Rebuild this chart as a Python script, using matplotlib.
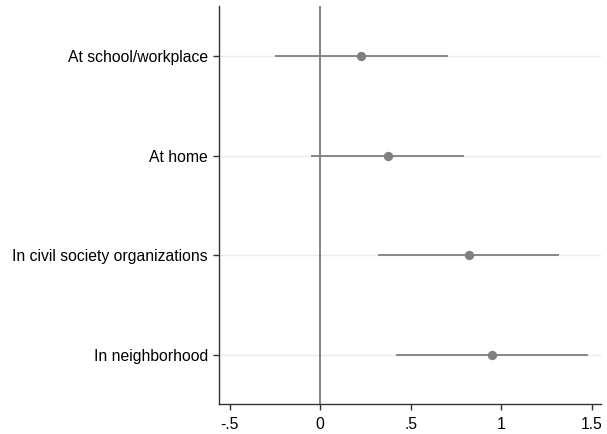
import matplotlib.pyplot as plt

# coefficient estimates with 95% CIs
labels = ["At school/workplace", "At home", "In civil society organizations", "In neighborhood"]
coef = [0.227, 0.372, 0.822, 0.948]
ci_low = [-0.249, -0.05, 0.322, 0.42]
ci_high = [0.705, 0.795, 1.320, 1.479]

xticks = [-0.5, 0, 0.5, 1, 1.5]
xticklabels = ["-.5", "0", ".5", "1", "1.5"]

plt.rcParams['font.family'] = ['Liberation Sans', 'DejaVu Sans']

fig = plt.figure(figsize=(6.07, 4.34), dpi=100)
ax = fig.add_axes([0.3608, 0.0691, 0.6292, 0.917])

ypos = list(range(1, len(labels) + 1))

# light horizontal grid at each category
for y in ypos:
    ax.axhline(y, color='#ebebeb', linewidth=1.0, zorder=0)

ax.axvline(0, color='#6e6e6e', linewidth=1.2, zorder=1)

ax.hlines(ypos, ci_low, ci_high, color='#7f7f7f', linewidth=1.3, zorder=2)
ax.scatter(coef, ypos, s=45, color='#7f7f7f', zorder=3, linewidths=0)

ax.set_xlim(-0.558, 1.55)
ax.set_ylim(4.49, 0.5)
ax.set_yticks(ypos)
ax.set_yticklabels(labels, fontsize=11.3)
ax.set_xticks(xticks)
ax.set_xticklabels(xticklabels, fontsize=11.3)

for spine in ['top', 'right']:
    ax.spines[spine].set_visible(False)
for spine in ['left', 'bottom']:
    ax.spines[spine].set_color('#333333')
    ax.spines[spine].set_linewidth(1.0)
ax.tick_params(axis='y', length=4, color='#333333', width=1.0, pad=4)
ax.tick_params(axis='x', length=4, color='#333333', width=1.0, pad=5)

fig.savefig('out.png', dpi=100, facecolor='white')
